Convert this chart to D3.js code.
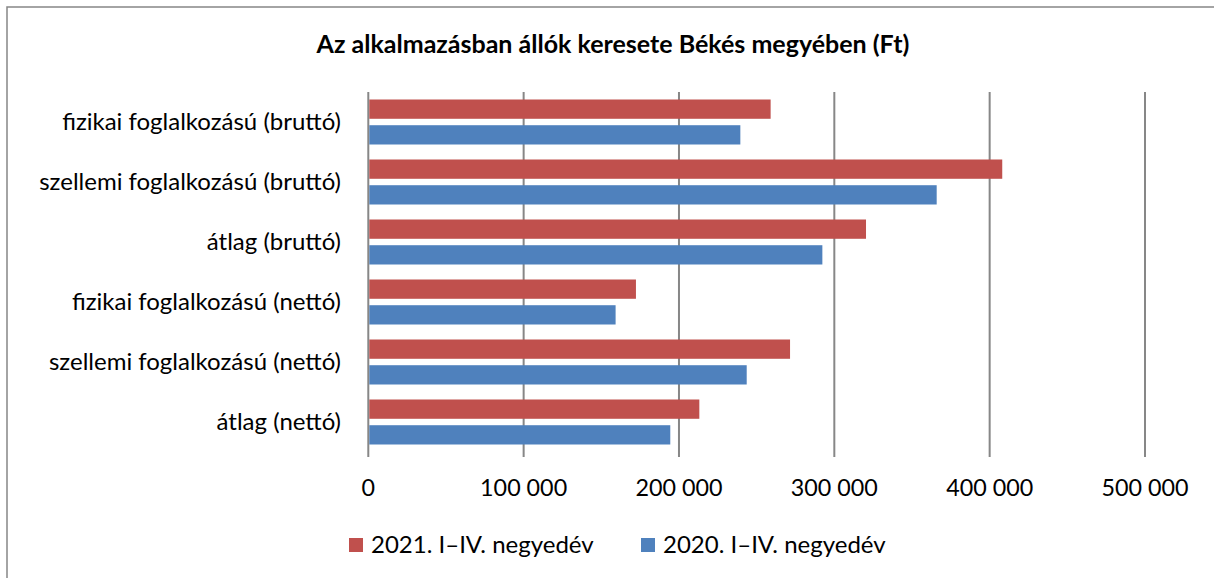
<!DOCTYPE html>
<html>
<head>
<meta charset="utf-8">
<script src="https://cdn.jsdelivr.net/npm/d3@7"></script>
<style>
  body { margin: 0; background: #fff; }
  text { font-family: Lato, "Open Sans", sans-serif; fill: #000; }
</style>
</head>
<body>
<div id="chart"></div>
<script>
// data
var categories = [
  'fizikai foglalkozású (bruttó)',
  'szellemi foglalkozású (bruttó)',
  'átlag (bruttó)',
  'fizikai foglalkozású (nettó)',
  'szellemi foglalkozású (nettó)',
  'átlag (nettó)'
];
var seriesNames = ['2021. I–IV. negyedév', '2020. I–IV. negyedév'];
var values2021 = [259000, 408100, 320400, 172300, 271500, 213100];
var values2020 = [239500, 365900, 292300, 159200, 243600, 194400];
var xTicks = [0, 100000, 200000, 300000, 400000, 500000];
var title = 'Az alkalmazásban állók keresete Békés megyében (Ft)';

var colors = ['#C0504D', '#4F81BD'];
var W = 1214, H = 578;

var svg = d3.select('#chart').append('svg').attr('width', W).attr('height', H);

// outer frame (only left and top edges show)
svg.append('rect').attr('x', 7).attr('y', 7).attr('width', W).attr('height', H)
  .attr('fill', 'none').attr('stroke', '#868686').attr('stroke-width', 1.5);

var plotLeft = 368.3, plotRight = 1145, plotTop = 92, plotBottom = 452;

var x = d3.scaleLinear().domain([0, 500000]).range([plotLeft, plotRight]);
var y = d3.scaleBand().domain(categories).range([plotTop, plotBottom]);
var ySub = d3.scaleBand().domain(seriesNames).range([7.5, 52.5]).paddingInner(0.25);

// grid lines
svg.append('g').selectAll('line').data(xTicks).enter().append('line')
  .attr('x1', d => x(d)).attr('x2', d => x(d))
  .attr('y1', plotTop).attr('y2', plotBottom + 5)
  .attr('stroke', '#878787').attr('stroke-width', 2);

// bars
var rows = categories.map((c, i) => ({ cat: c, vals: [values2021[i], values2020[i]] }));
var groups = svg.append('g').selectAll('g').data(rows).enter().append('g')
  .attr('transform', d => `translate(0,${y(d.cat)})`);
groups.selectAll('rect').data(d => d.vals.map((v, j) => ({ v: v, s: seriesNames[j], j: j })))
  .enter().append('rect')
  .attr('x', x(0) + 1)
  .attr('y', d => ySub(d.s))
  .attr('width', d => x(d.v) - x(0) - 1)
  .attr('height', ySub.bandwidth())
  .attr('fill', d => colors[d.j]);

// category labels
svg.append('g').selectAll('text').data(categories).enter().append('text')
  .attr('x', 341).attr('y', d => y(d) + y.bandwidth() / 2)
  .attr('dy', '0.35em').attr('text-anchor', 'end')
  .style('font-size', '24px')
  .text(d => d);

// x tick labels
svg.append('g').selectAll('text').data(xTicks).enter().append('text')
  .attr('x', d => x(d)).attr('y', 496).attr('text-anchor', 'middle')
  .style('font-size', '23.3px')
  .text(d => d3.format(',')(d).replace(/,/g, ' '));

// title
svg.append('text').attr('x', 613).attr('y', 53).attr('text-anchor', 'middle')
  .style('font-size', '25px').style('font-weight', 'bold')
  .text(title);

// legend
var legendX = [349, 641];
var leg = svg.append('g').selectAll('g').data(seriesNames).enter().append('g')
  .attr('transform', (d, i) => `translate(${legendX[i]},545)`);
leg.append('rect').attr('x', 0).attr('y', -7).attr('width', 14).attr('height', 14)
  .attr('fill', (d, i) => colors[i]);
leg.append('text').attr('x', 22).attr('dy', '0.35em')
  .style('font-size', '24px').text(d => d);
</script>
</body>
</html>
